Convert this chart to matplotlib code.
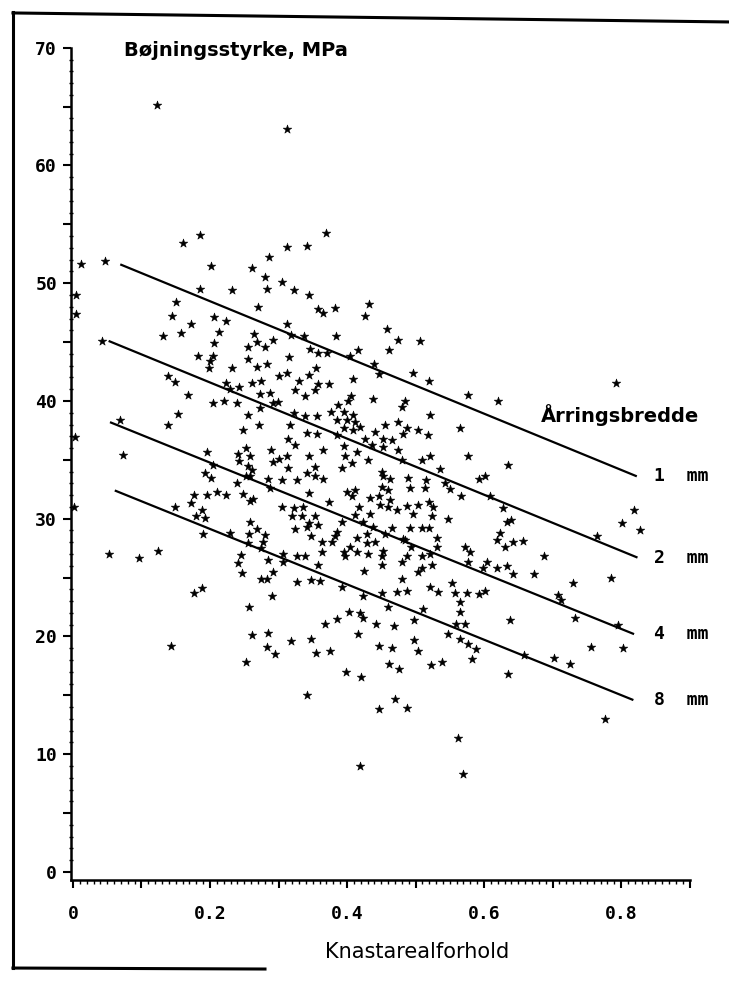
import matplotlib
matplotlib.use('Agg')
import matplotlib.pyplot as plt
from matplotlib.lines import Line2D
from matplotlib.ticker import MultipleLocator, FuncFormatter

# knot area ratio (x) and bending strength in MPa (y) in bands
top_x = [0.123, 0.312, 0.161, 0.186, 0.369, 0.313, 0.342]
top_y = [65.1, 63.1, 53.4, 54.1, 54.3, 53.1, 53.2]

upper_left_x = [0.011, 0.046, 0.202, 0.261, 0.286, 0.280, 0.283, 0.232, 0.185, 0.004,
                0.151, 0.270, 0.005, 0.145, 0.206, 0.223, 0.172, 0.213, 0.158, 0.132,
                0.264, 0.268, 0.292, 0.042, 0.206, 0.256, 0.280, 0.183, 0.204, 0.256,
                0.200, 0.198, 0.268, 0.283, 0.232, 0.139, 0.149, 0.224, 0.229, 0.243,
                0.262, 0.274, 0.168, 0.273, 0.288, 0.205, 0.221, 0.239, 0.273, 0.292,
                0.154, 0.256]
upper_left_y = [51.6, 51.9, 51.5, 51.3, 52.2, 50.5, 49.5, 49.4, 49.5, 49.0,
                48.4, 48.0, 47.4, 47.2, 47.1, 46.8, 46.5, 45.9, 45.8, 45.5,
                45.7, 45.0, 45.2, 45.1, 44.9, 44.6, 44.6, 43.8, 43.8, 43.6,
                43.4, 42.8, 42.9, 43.1, 42.8, 42.1, 41.6, 41.5, 41.0, 41.2,
                41.5, 41.7, 40.5, 40.6, 40.7, 39.8, 40.0, 39.8, 39.4, 39.8,
                38.9, 38.8]

upper_mid_x = [0.305, 0.323, 0.344, 0.357, 0.365, 0.383, 0.432, 0.426, 0.459, 0.474,
               0.507, 0.313, 0.318, 0.337, 0.384, 0.346, 0.358, 0.371, 0.416, 0.461,
               0.315, 0.404, 0.439, 0.354, 0.446, 0.497, 0.519, 0.301, 0.313, 0.344,
               0.330, 0.408, 0.358, 0.373, 0.353, 0.324, 0.338, 0.406, 0.401, 0.438,
               0.485, 0.480, 0.576, 0.387, 0.299, 0.377, 0.395, 0.323, 0.409, 0.521,
               0.339, 0.356, 0.793, 0.620]
upper_mid_y = [50.1, 49.4, 49.0, 47.8, 47.5, 47.9, 48.2, 47.2, 46.1, 45.2,
               45.1, 46.5, 45.6, 45.5, 45.5, 44.4, 44.1, 44.1, 44.3, 44.3,
               43.7, 43.8, 43.1, 42.8, 42.3, 42.4, 41.7, 42.1, 42.4, 42.2,
               41.7, 41.9, 41.4, 41.4, 40.9, 40.9, 40.4, 40.4, 40.0, 40.2,
               40.0, 39.5, 40.5, 39.7, 39.9, 39.1, 39.1, 39.0, 38.8, 38.8,
               38.7, 38.7, 41.5, 40.0]

middle_left_x = [0.069, 0.139, 0.271, 0.248, 0.003, 0.073, 0.195, 0.241, 0.253, 0.258,
                 0.243, 0.289, 0.292, 0.205, 0.256, 0.262, 0.193, 0.202, 0.253, 0.258,
                 0.285, 0.239, 0.287, 0.176, 0.195, 0.210, 0.223, 0.248, 0.258, 0.263,
                 0.172, 0.149, 0.001, 0.189, 0.179, 0.193, 0.258, 0.269, 0.190, 0.229,
                 0.257, 0.280, 0.255, 0.278, 0.275, 0.053, 0.097, 0.124, 0.245, 0.285,
                 0.241, 0.246, 0.292, 0.275, 0.283, 0.176, 0.189, 0.290]
middle_left_y = [38.4, 38.0, 38.0, 37.5, 36.9, 35.4, 35.7, 35.5, 36.0, 35.3,
                 34.9, 35.8, 34.8, 34.6, 34.5, 34.1, 33.9, 33.5, 33.6, 33.6,
                 33.4, 33.0, 32.6, 32.0, 32.0, 32.3, 32.0, 32.1, 31.5, 31.7,
                 31.3, 31.0, 31.0, 30.7, 30.2, 30.1, 29.7, 29.1, 28.7, 28.8,
                 28.7, 28.6, 27.9, 28.0, 27.5, 27.0, 26.7, 27.3, 26.9, 26.5,
                 26.2, 25.4, 25.5, 24.9, 24.9, 23.7, 24.1, 23.4]

middle_x = [0.317, 0.385, 0.400, 0.412, 0.395, 0.409, 0.419, 0.455, 0.475, 0.487,
            0.504, 0.518, 0.565, 0.314, 0.341, 0.356, 0.385, 0.426, 0.441, 0.453,
            0.465, 0.482, 0.324, 0.395, 0.436, 0.453, 0.365, 0.414, 0.475, 0.300,
            0.312, 0.344, 0.397, 0.431, 0.480, 0.509, 0.521, 0.577, 0.314, 0.353,
            0.392, 0.407, 0.341, 0.353, 0.365, 0.305, 0.327, 0.451, 0.453, 0.463,
            0.489, 0.516, 0.536, 0.543, 0.592, 0.601, 0.451, 0.460, 0.492, 0.514,
            0.550, 0.567, 0.344, 0.400, 0.412, 0.407, 0.434, 0.446, 0.463, 0.373,
            0.448, 0.460, 0.487, 0.504, 0.519, 0.526, 0.305, 0.322, 0.336, 0.417,
            0.473, 0.497, 0.412, 0.434, 0.319, 0.334, 0.353, 0.524, 0.547, 0.392,
            0.424, 0.344, 0.358, 0.324, 0.385, 0.438, 0.465, 0.492, 0.509, 0.519,
            0.341, 0.382, 0.348, 0.429, 0.455, 0.482, 0.531, 0.378, 0.363, 0.414,
            0.429, 0.441, 0.485, 0.494, 0.531, 0.404, 0.395, 0.414, 0.363, 0.453,
            0.572, 0.580, 0.307, 0.327, 0.339, 0.397, 0.431, 0.451, 0.487, 0.509,
            0.521, 0.306, 0.358, 0.451, 0.480, 0.509, 0.524, 0.576, 0.605, 0.425,
            0.504, 0.599, 0.480, 0.348, 0.361, 0.327, 0.553, 0.392, 0.521, 0.533,
            0.473, 0.487, 0.451, 0.558, 0.575, 0.592, 0.601, 0.424, 0.565]
middle_y = [38.0, 38.4, 38.4, 38.2, 37.7, 37.5, 37.8, 38.0, 38.2, 37.7,
            37.5, 37.1, 37.7, 36.8, 37.3, 37.2, 37.1, 36.8, 37.4, 36.8,
            36.7, 37.2, 36.3, 36.2, 36.3, 36.1, 35.8, 35.7, 35.8, 35.1,
            35.3, 35.3, 35.3, 35.0, 35.0, 35.0, 35.3, 35.3, 34.3, 34.4,
            34.3, 34.7, 33.9, 33.6, 33.4, 33.3, 33.3, 34.0, 33.6, 33.4,
            33.5, 33.3, 34.2, 33.0, 33.4, 33.6, 32.7, 32.4, 32.6, 32.6,
            32.5, 31.9, 32.2, 32.3, 32.4, 31.9, 31.8, 31.9, 31.6, 31.4,
            31.2, 31.0, 31.1, 31.2, 31.4, 31.0, 31.0, 30.9, 31.0, 31.0,
            30.7, 30.4, 30.3, 30.4, 30.2, 30.2, 30.2, 30.2, 30.0, 29.7,
            29.7, 29.6, 29.5, 29.1, 28.9, 29.3, 29.2, 29.2, 29.2, 29.2,
            29.3, 28.5, 28.5, 28.7, 28.7, 28.3, 28.4, 28.0, 28.0, 28.4,
            27.9, 28.0, 28.2, 27.6, 27.6, 27.6, 27.2, 27.2, 27.2, 27.3,
            27.6, 27.2, 27.0, 26.8, 26.8, 26.8, 27.0, 26.8, 26.8, 26.8,
            27.0, 26.3, 26.1, 26.1, 26.3, 25.8, 26.1, 26.3, 26.3, 25.6,
            25.5, 25.8, 24.9, 24.8, 24.7, 24.6, 24.5, 24.2, 24.2, 23.8,
            23.8, 23.9, 23.7, 23.7, 23.7, 23.6, 23.9, 23.4, 22.9]

middle_right_x = [0.635, 0.609, 0.627, 0.633, 0.640, 0.623, 0.619, 0.631, 0.643, 0.657,
                  0.687, 0.619, 0.633, 0.643, 0.673, 0.730, 0.785, 0.708, 0.713, 0.765,
                  0.802, 0.819, 0.827]
middle_right_y = [34.6, 31.9, 30.9, 29.7, 29.9, 28.8, 28.2, 27.6, 28.0, 28.1,
                  26.8, 25.8, 26.0, 25.3, 25.3, 24.5, 25.0, 23.5, 23.1, 28.5,
                  29.6, 30.7, 29.0]

lower_left_x = [0.257, 0.143, 0.262, 0.285, 0.283, 0.295, 0.252, 0.318, 0.347, 0.368,
                0.385, 0.403, 0.419, 0.424, 0.442, 0.416, 0.446, 0.354, 0.375, 0.398,
                0.420, 0.341, 0.446, 0.419]
lower_left_y = [22.5, 19.2, 20.1, 20.3, 19.1, 18.5, 17.8, 19.6, 19.8, 21.1,
                21.5, 22.1, 22.0, 21.6, 21.1, 20.2, 19.2, 18.6, 18.8, 17.0,
                16.6, 15.0, 13.8, 9.0]

lower_right_x = [0.460, 0.511, 0.565, 0.468, 0.498, 0.559, 0.572, 0.638, 0.733, 0.796,
                 0.465, 0.498, 0.504, 0.548, 0.565, 0.577, 0.588, 0.582, 0.658, 0.702,
                 0.726, 0.756, 0.803, 0.462, 0.476, 0.522, 0.538, 0.635, 0.470, 0.488,
                 0.777, 0.562, 0.569]
lower_right_y = [22.5, 22.3, 22.1, 20.9, 21.4, 21.1, 21.1, 21.4, 21.6, 21.0,
                 19.0, 19.7, 18.8, 20.2, 19.8, 19.4, 18.9, 18.1, 18.4, 18.2,
                 17.7, 19.1, 19.0, 17.7, 17.2, 17.6, 17.8, 16.8, 14.7, 13.9,
                 13.0, 11.4, 8.3]

knast = (top_x + upper_left_x + upper_mid_x + middle_left_x + middle_x
         + middle_right_x + lower_left_x + lower_right_x)
styrke = (top_y + upper_left_y + upper_mid_y + middle_left_y + middle_y
          + middle_right_y + lower_left_y + lower_right_y)

# fitted lines for each ring width
ring_labels = ['1  mm', '2  mm', '4  mm', '8  mm']
line_x0 = [0.069, 0.052, 0.054, 0.061]
line_y0 = [51.6, 45.1, 38.2, 32.4]
line_x1 = [0.823, 0.824, 0.819, 0.818]
line_y1 = [33.6, 26.7, 20.2, 14.6]

plt.rcParams['font.family'] = 'DejaVu Sans Mono'
plt.rcParams['font.weight'] = 'bold'

fig = plt.figure(figsize=(7.29, 9.89), dpi=100)
ax = fig.add_axes([0.0973, 0.110, 0.8486, 0.8465])

ax.scatter(knast, styrke, marker='*', s=42, c='black', edgecolors='black',
           linewidths=0.4, zorder=3)

for x0, y0, x1, y1, lab in zip(line_x0, line_y0, line_x1, line_y1, ring_labels):
    ax.plot([x0, x1], [y0, y1], color='black', lw=1.6, solid_capstyle='butt')
    ax.text(0.848, y1, lab, fontsize=13, va='center', ha='left')

ax.text(0.0745, 69.8, 'Bøjningsstyrke, MPa', family='DejaVu Sans', weight='bold',
        fontsize=14, va='center', ha='left')
ax.text(0.683, 38.8, 'Årringsbredde', family='DejaVu Sans', weight='bold',
        fontsize=14, va='center', ha='left')

ax.set_xlim(-0.003, 0.9)
ax.set_ylim(-0.7, 70.4)
ax.spines['top'].set_visible(False)
ax.spines['right'].set_visible(False)
ax.spines['left'].set_bounds(-0.7, 70)
ax.spines['left'].set_linewidth(1.8)
ax.spines['bottom'].set_linewidth(1.8)

ax.yaxis.set_major_locator(MultipleLocator(5))
ax.yaxis.set_minor_locator(MultipleLocator(1))
ax.yaxis.set_major_formatter(FuncFormatter(
    lambda v, p: f'{int(round(v))}' if round(v) % 10 == 0 else ''))
ax.xaxis.set_major_locator(MultipleLocator(0.1))
ax.xaxis.set_minor_locator(MultipleLocator(0.01))
ax.xaxis.set_major_formatter(FuncFormatter(
    lambda v, p: ('0' if abs(v) < 1e-9 else f'{v:.1f}') if round(v * 10) % 2 == 0 else ''))

ax.tick_params(axis='y', which='major', direction='out', length=6, width=1.5,
               labelsize=13, pad=4)
ax.tick_params(axis='y', which='minor', direction='inout', length=3, width=1)
ax.tick_params(axis='x', which='major', direction='out', length=6, width=1.5,
               labelsize=13, pad=12)
ax.tick_params(axis='x', which='minor', direction='out', length=3, width=1)

fig.text(0.572, 0.0374, 'Knastarealforhold', family='DejaVu Sans', weight='normal',
         fontsize=15, ha='center', va='center')

# scanned page frame
fig.add_artist(Line2D([0.0178, 0.0178], [0.9879, 0.0212], transform=fig.transFigure,
                      color='black', lw=2.2))
fig.add_artist(Line2D([0.0178, 1.0], [0.9869, 0.9778], transform=fig.transFigure,
                      color='black', lw=2.2))
fig.add_artist(Line2D([0.0178, 0.3635], [0.0212, 0.0202], transform=fig.transFigure,
                      color='black', lw=2.2))

fig.savefig('out.png', dpi=100)
